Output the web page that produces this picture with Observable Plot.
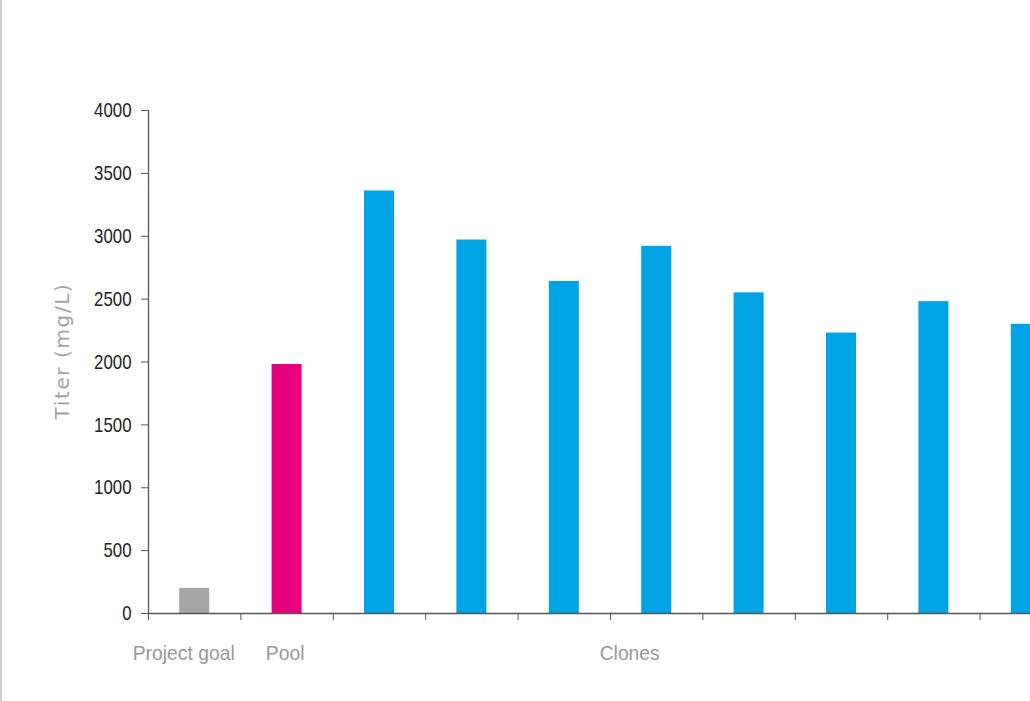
<!DOCTYPE html>
<html>
<head>
<meta charset="utf-8">
<script src="https://cdn.jsdelivr.net/npm/d3@7"></script>
<script src="https://cdn.jsdelivr.net/npm/@observablehq/plot@0.6"></script>
<style>
  html, body { margin: 0; padding: 0; background: #fff; overflow: hidden; }
  #chart { position: relative; width: 1030px; height: 701px; overflow: hidden; }
  #chart svg { position: absolute; left: 0; top: 0; max-width: none !important; }
  #edge { position: absolute; left: 0; top: 0; width: 2px; height: 701px; background: #cdcdcd; }
</style>
</head>
<body>
<div id="chart"><div id="edge"></div></div>
<script>
// Titer per sample (mg/L)
const samples = ["Project goal", "Pool", "Clone 1", "Clone 2", "Clone 3", "Clone 4", "Clone 5", "Clone 6", "Clone 7", "Clone 8"];
const titers = [200, 1980, 3360, 2970, 2640, 2920, 2550, 2230, 2480, 2300];
const groups = ["goal", "pool", "clone", "clone", "clone", "clone", "clone", "clone", "clone", "clone"];
const groupColors = {goal: "#a6a6a6", pool: "#e6007e", clone: "#00a3e4"};
const yTicks = [0, 500, 1000, 1500, 2000, 2500, 3000, 3500, 4000];
const goalLabel = "Project goal";
const poolLabel = "Pool";
const cloneLabel = "Clones";
const yTitle = "Titer (mg/L)";

const data = samples.map((s, i) => ({sample: s, titer: titers[i], color: groupColors[groups[i]]}));

// layout
const left = 148, right = 1072;
const step = (right - left) / samples.length;
const labelFont = "'Liberation Sans', Arial, sans-serif";
const catStyle = {frameAnchor: "bottom", dy: 46, fill: "#999", fontSize: 21, fontFamily: labelFont};

const chart = Plot.plot({
  width: 1080,
  height: 701,
  marginLeft: left,
  marginRight: 1080 - right,
  marginTop: 110,
  marginBottom: 88,
  style: {fontFamily: labelFont, fontSize: "21px", background: "transparent", maxWidth: "none"},
  x: {type: "band", domain: samples, range: [left, right], paddingInner: 0.675, paddingOuter: 0.3375, round: false, axis: null},
  y: {domain: [0, 4000], axis: null},
  color: {type: "identity"},
  marks: [
    Plot.barY(data, {x: "sample", y: "titer", fill: "color"}),
    // y axis
    Plot.axisY({ticks: yTicks, tickFormat: d3.format("d"), tickSize: 7, tickPadding: 10, stroke: "#555", fill: "#222", fontSize: 21, fontFamily: labelFont, label: null}),
    Plot.ruleX([samples[0]], {x: d => d, y1: 0, y2: 4000, dx: -step / 2, stroke: "#555", strokeWidth: 1.3}),
    // x axis: ticks on category boundaries
    Plot.axisX({ticks: samples, tickSize: 7, tickFormat: () => "", dx: -step / 2, stroke: "#555", label: null}),
    Plot.ruleY([0], {stroke: "#555", strokeWidth: 1.5}),
    // category labels
    Plot.text([goalLabel], {x: () => samples[0], dx: -11, ...catStyle}),
    Plot.text([poolLabel], {x: () => samples[1], dx: -2, ...catStyle}),
    Plot.text([cloneLabel], {x: () => samples[5], dx: -27, ...catStyle}),
    // y title
    Plot.text([yTitle], {frameAnchor: "left", textAnchor: "middle", rotate: -90, dx: -86, dy: -11, fill: "#a3a3a3", fontSize: 20, fontFamily: "'DejaVu Sans', sans-serif"})
  ]
});

document.getElementById("chart").prepend(chart);

// narrow lettering for tick and category labels; spaced lettering for the axis title
const catLabels = [goalLabel, poolLabel, cloneLabel];
d3.select(chart).selectAll("text").each(function() {
  const t = this.textContent;
  if (t === yTitle) {
    this.style.letterSpacing = "1.6px";
  } else if (t) {
    const len = this.getComputedTextLength();
    const k = catLabels.includes(t) ? 0.92 : 0.8;
    this.setAttribute("textLength", (len * k).toFixed(1));
    this.setAttribute("lengthAdjust", "spacingAndGlyphs");
  }
});
</script>
</body>
</html>
